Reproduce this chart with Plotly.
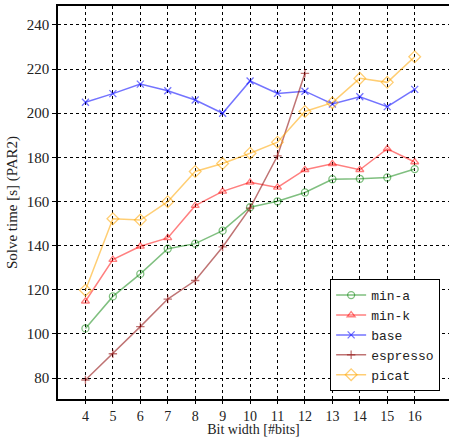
import plotly.graph_objects as go

bits = [4, 5, 6, 7, 8, 9, 10, 11, 12, 13, 14, 15, 16]
min_a = [102.5, 117.0, 127.2, 138.6, 140.9, 146.8, 157.4, 160.1, 164.1, 170.1, 170.3, 170.9, 174.7]
min_k = [114.8, 133.7, 139.7, 143.5, 158.1, 164.6, 168.7, 166.4, 174.4, 177.1, 174.4, 183.9, 177.9]
base = [205.0, 208.9, 213.2, 210.2, 206.0, 200.0, 214.6, 209.0, 210.0, 204.2, 207.5, 203.0, 210.8]
espresso_bits = [4, 5, 6, 7, 8, 9, 10, 11, 12]
espresso = [79.1, 91.0, 103.3, 115.8, 124.2, 139.4, 157.0, 180.7, 218.1]
picat = [119.8, 152.2, 151.6, 159.9, 173.6, 177.2, 181.9, 186.9, 200.8, 204.8, 215.8, 214.0, 225.6]
y_ticks = [80, 100, 120, 140, 160, 180, 200, 220, 240]

series = [
    ("min-a", bits, min_a, "rgba(0,128,0,0.5)", "circle-open", 7),
    ("min-k", bits, min_k, "rgba(255,0,0,0.5)", "triangle-up-open", 7),
    ("base", bits, base, "rgba(0,0,255,0.55)", "x-thin-open", 7),
    ("espresso", espresso_bits, espresso, "rgba(139,0,0,0.55)", "cross-thin-open", 6),
    ("picat", bits, picat, "rgba(255,165,0,0.55)", "diamond-open", 9),
]

fig = go.Figure()
for name, xs, ys, color, sym, size in series:
    fig.add_trace(go.Scatter(
        x=xs, y=ys, name=name, mode="lines+markers",
        line=dict(color=color, width=1.5),
        marker=dict(symbol=sym, size=size, color=color, line=dict(color=color, width=1.3)),
    ))

fig.update_layout(
    width=449, height=437,
    margin=dict(l=58, r=0, t=6, b=38, autoexpand=False),
    paper_bgcolor="white", plot_bgcolor="white",
    font=dict(family="Liberation Serif", size=15, color="#222"),
    showlegend=True,
    legend=dict(
        x=0.696, y=0.02, xanchor="left", yanchor="bottom",
        bordercolor="black", borderwidth=1, bgcolor="white",
        font=dict(family="Liberation Mono", size=13, color="#222"),
        tracegroupgap=0, itemwidth=30,
    ),
    xaxis=dict(
        title=dict(text="Bit width [#bits]", standoff=0, font=dict(size=14)),
        range=[3, 17.25], tickmode="array", tickvals=bits,
        tickfont=dict(size=14),
        showgrid=True, gridcolor="black", griddash="dot", gridwidth=1,
        showline=True, linecolor="black", linewidth=1.5, mirror=True,
        ticks="outside", ticklen=3, tickcolor="black", zeroline=False,
        automargin=False,
    ),
    yaxis=dict(
        title=dict(text="Solve time [s] (PAR2)", standoff=6, font=dict(size=15)),
        range=[70.5, 248.6], tickmode="array", tickvals=y_ticks,
        showgrid=True, gridcolor="black", griddash="dot", gridwidth=1,
        showline=True, linecolor="black", linewidth=1.5,
        ticks="outside", ticklen=4, tickcolor="black", zeroline=False,
        automargin=False,
    ),
)

fig.write_html(
    "out.html",
    config={"displayModeBar": False},
    post_script="document.body.style.margin='0';document.body.style.overflow='hidden';",
)
